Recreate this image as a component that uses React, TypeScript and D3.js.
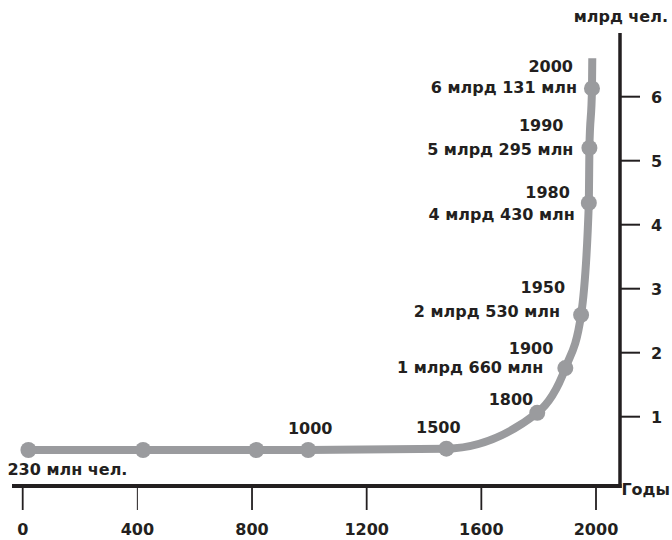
import * as d3 from 'd3'

// positions (year on x, billions of people on y)
const pointYears = [20, 420, 815, 996, 1478, 1795, 1893, 1948, 1975, 1977, 1986]
const pointValues = [0.48, 0.48, 0.48, 0.48, 0.5, 1.06, 1.76, 2.59, 4.34, 5.2, 6.13]
// the line keeps going up past the last dot
const tailYear = 1987
const tailValue = 6.6

const yearLabels = ['', '', '', '1000', '1500', '1800', '1900', '1950', '1980', '1990', '2000']
const popLabels = ['230 млн чел.', '', '', '', '', '', '1 млрд 660 млн', '2 млрд 530 млн', '4 млрд 430 млн', '5 млрд 295 млн', '6 млрд 131 млн']

const xTicks = [0, 400, 800, 1200, 1600, 2000]
const yTicks = [1, 2, 3, 4, 5, 6]

// label placement relative to each dot: [dx, dy, anchor] for the year and for the population
const yearOffsets: [number, number, string][] = [
  [0, 0, 'middle'], [0, 0, 'middle'], [0, 0, 'middle'],
  [2, -16, 'middle'], [-8, -16, 'middle'], [-4, -8, 'end'],
  [-12, -14, 'end'], [-16, -22, 'end'], [-19, -5, 'end'],
  [-26, -17, 'end'], [-19, -16, 'end'],
]
const popOffsets: [number, number, string][] = [
  [-21, 25, 'start'], [0, 0, 'end'], [0, 0, 'end'], [0, 0, 'end'], [0, 0, 'end'], [0, 0, 'end'],
  [-22, 5, 'end'], [-21, 2, 'end'], [-14, 17, 'end'], [-16, 7, 'end'], [-15, 5, 'end'],
]

const W = 672
const H = 540
const GRAY = '#9a9b9e'
const INK = '#231f20'
const FONT = '"DejaVu Sans", sans-serif'

export default function App() {
  const x = d3.scaleLinear().domain([0, 2000]).range([22.7, 596])
  const y = d3.scaleLinear().domain([0, 6]).range([480.7, 96.7])

  const axisY = 486
  const axisX = 620

  const linePts: [number, number][] = pointYears.map((yr, i) => [yr, pointValues[i]])
  linePts.push([tailYear, tailValue])

  const line = d3.line<[number, number]>()
    .x(d => x(d[0]))
    .y(d => y(d[1]))
    .curve(d3.curveMonotoneX)

  return (
    <svg
      width={W}
      height={H}
      style={{ position: 'absolute', left: 0, top: 0, background: '#fff' }}
      fontFamily={FONT}
      fontWeight="bold"
    >
      {/* series line */}
      <path d={line(linePts) || ''} fill="none" stroke={GRAY} strokeWidth={8} strokeLinecap="butt" strokeLinejoin="round" />
      {pointYears.map((yr, i) => (
        <circle key={i} cx={x(yr)} cy={y(pointValues[i])} r={8} fill={GRAY} />
      ))}

      {/* x axis */}
      <line x1={12} x2={axisX + 1.5} y1={axisY} y2={axisY} stroke={INK} strokeWidth={4} />
      {xTicks.map(t => (
        <g key={t} transform={`translate(${x(t)},0)`}>
          <line y1={axisY + 2} y2={510} stroke={INK} strokeWidth={t === 400 ? 1 : 1.8} />
          <text y={535} textAnchor="middle" fontSize={16} fill={INK}>{t}</text>
        </g>
      ))}
      <text x={670} y={495} textAnchor="end" fontSize={16} fill={INK}>Годы</text>

      {/* y axis */}
      <line x1={axisX} x2={axisX} y1={33} y2={axisY + 2} stroke={INK} strokeWidth={3.5} />
      {yTicks.map(t => (
        <g key={t} transform={`translate(0,${y(t)})`}>
          <line x1={axisX} x2={640} stroke={INK} strokeWidth={2} />
          <text x={651} y={6} fontSize={16} fill={INK}>{t}</text>
        </g>
      ))}
      <text x={668} y={22} textAnchor="end" fontSize={16} fill={INK}>млрд чел.</text>

      {/* point labels */}
      {pointYears.map((yr, i) => {
        const px = x(yr)
        const py = y(pointValues[i])
        const yo = yearOffsets[i]
        const po = popOffsets[i]
        return (
          <g key={i}>
            {yearLabels[i] && (
              <text x={px + yo[0]} y={py + yo[1]} textAnchor={yo[2] as any} fontSize={16} fill={INK}>{yearLabels[i]}</text>
            )}
            {popLabels[i] && (
              <text x={px + po[0]} y={py + po[1]} textAnchor={po[2] as any} fontSize={16} fill={INK}>{popLabels[i]}</text>
            )}
          </g>
        )
      })}
    </svg>
  )
}
